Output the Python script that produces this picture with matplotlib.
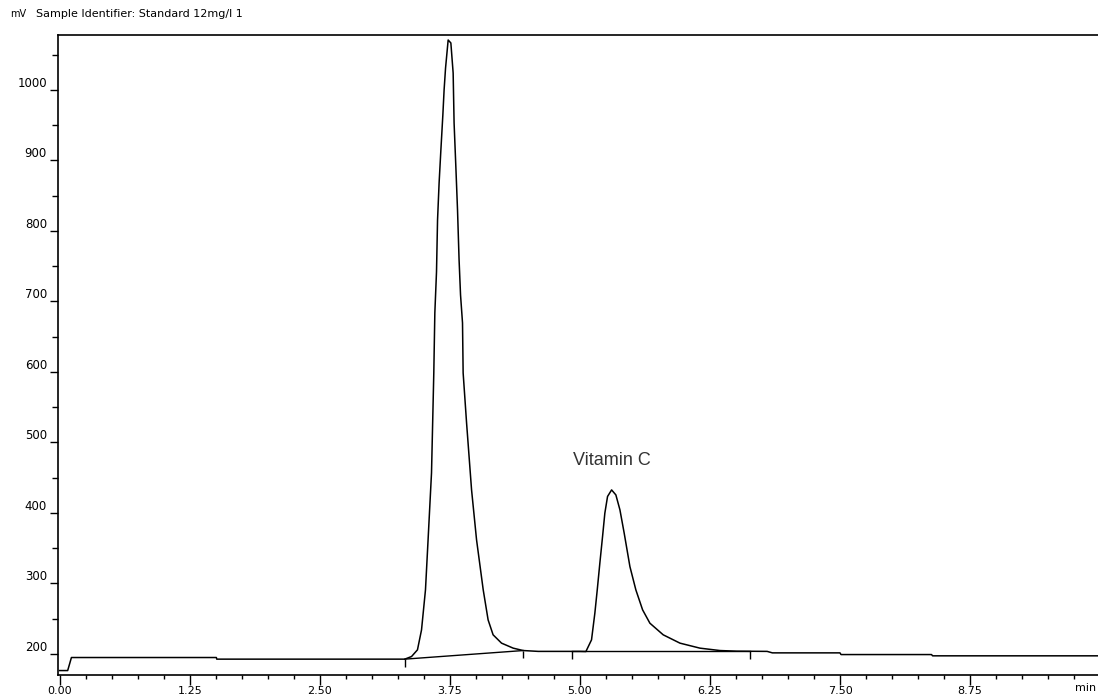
import matplotlib
matplotlib.use("Agg")
import matplotlib.pyplot as plt
from matplotlib.ticker import MultipleLocator, FixedLocator
import matplotlib.transforms as mtransforms

# chromatogram trace (min, mV)
trace_time = [0.0, 0.077, 0.096, 0.113, 1.506, 1.51, 3.317,
              3.382, 3.439, 3.478, 3.516, 3.541, 3.574, 3.596, 3.606, 3.622,
              3.632, 3.647, 3.663, 3.683, 3.695, 3.709, 3.734,
              3.76, 3.782, 3.791, 3.808, 3.824, 3.839, 3.853, 3.872, 3.878,
              3.911, 3.959, 4.007, 4.071, 4.118, 4.166, 4.247, 4.359, 4.455,
              4.6, 5.0, 5.058,
              5.112, 5.144, 5.167, 5.192, 5.218, 5.24, 5.266, 5.305,
              5.346, 5.385, 5.426, 5.481, 5.538, 5.603, 5.673, 5.801, 5.962,
              6.154, 6.346, 6.507,
              6.8, 6.85, 7.5, 7.51, 8.38, 8.39, 9.98]
trace_mv = [176.3, 176.3, 186.0, 194.8, 194.8, 192.5, 192.5,
            196.2, 205.7, 234.0, 290.8, 361.7, 456.7, 598.6, 683.7, 741.8,
            815.6, 868.1, 912.0, 964.5, 1000.0, 1031.2, 1070.9,
            1066.7, 1024.0, 953.2, 890.8, 829.8, 758.9, 709.2, 669.5, 598.6,
            527.7, 432.6, 361.7, 290.8, 248.2, 227.0, 215.2, 208.1, 204.7,
            203.5, 203.5, 203.3,
            219.9, 257.7, 290.8, 328.7, 366.4, 399.6, 423.3, 432.6,
            425.5, 404.3, 371.2, 323.8, 290.8, 262.4, 243.5, 227.0, 215.2,
            208.1, 204.7, 203.8,
            203.5, 201.4, 201.4, 199.0, 199.0, 197.2, 197.2]

# integration baselines and peak start / end marks
base1_time = [3.317, 4.455]
base1_mv = [192.5, 204.7]
base2_time = [4.92, 6.635]
base2_mv = [203.8, 203.8]
mark_time = [3.317, 4.455, 4.92, 6.635]
mark_mv = [192.5, 204.7, 203.8, 203.8]

peak_label = "Vitamin C"
peak_label_pos = (5.305, 475)

x_major = [0.0, 1.25, 2.5, 3.75, 5.0, 6.25, 7.5, 8.75]
x_labels = ["0.00", "1.25", "2.50", "3.75", "5.00", "6.25", "7.50", "8.75"]
y_major = [200, 300, 400, 500, 600, 700, 800, 900, 1000]

fig = plt.figure(figsize=(10.98, 6.97), dpi=100)
ax = fig.add_axes([58 / 1098, 1 - 675 / 697, 1 - 58 / 1098, (675 - 35) / 697])

ax.plot(trace_time, trace_mv, color="black", lw=1.1)
ax.plot(base1_time, base1_mv, color="black", lw=1.0)
ax.plot(base2_time, base2_mv, color="black", lw=1.0)
ax.vlines(mark_time, [m - 11 for m in mark_mv], mark_mv, color="black", lw=1.0)

ax.text(peak_label_pos[0], peak_label_pos[1], peak_label, fontsize=13,
        family="Liberation Sans", color="#333333", ha="center", va="center")

ax.set_xlim(-0.016, 9.98)
ax.set_ylim(170, 1078)

ax.xaxis.set_major_locator(FixedLocator(x_major))
ax.set_xticklabels(x_labels)
ax.xaxis.set_minor_locator(MultipleLocator(0.25))
ax.yaxis.set_major_locator(FixedLocator(y_major))
ax.yaxis.set_minor_locator(MultipleLocator(50))

ax.tick_params(axis="x", which="major", length=7, width=1, pad=1, labelsize=8)
ax.tick_params(axis="x", which="minor", length=3, width=1)
ax.tick_params(axis="y", which="major", length=6, width=1, pad=2, labelsize=8.5)
ax.tick_params(axis="y", which="minor", length=4, width=1)
for lbl in ax.get_yticklabels():
    lbl.set_verticalalignment("bottom")

for side in ["left", "top", "bottom"]:
    ax.spines[side].set_linewidth(1.2)
ax.spines["right"].set_visible(False)

# axis unit labels
trans = mtransforms.blended_transform_factory(ax.transData, fig.transFigure)
ax.text(9.86, 1 - 688 / 697, "min", transform=trans, fontsize=8,
        ha="center", va="center")
fig.text(10 / 1098, 1 - 14 / 697, "mV", fontsize=7, va="center")
fig.text(36 / 1098, 1 - 14 / 697, "Sample Identifier: Standard 12mg/l 1",
         fontsize=8, va="center")

fig.savefig("out.png", dpi=100)
